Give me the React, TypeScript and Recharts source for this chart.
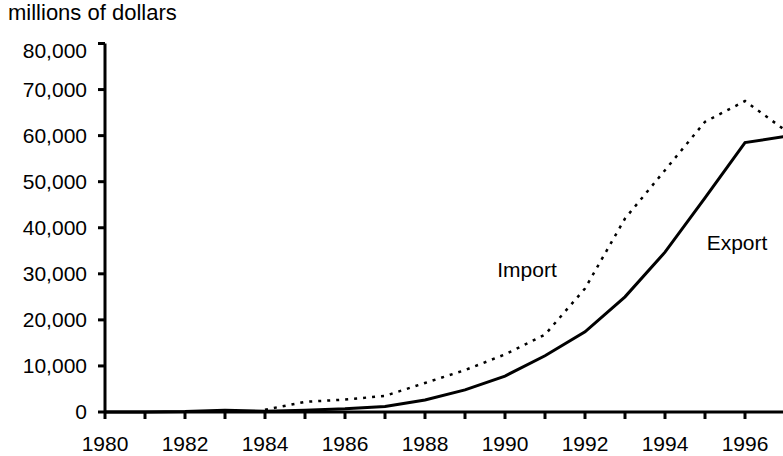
import React from "react";
import {
  Line,
  LineChart,
  ReferenceDot,
  XAxis,
  YAxis,
} from "recharts";

// Valores (millones de dólares)
const YEARS = [
  1980, 1981, 1982, 1983, 1984, 1985, 1986, 1987, 1988,
  1989, 1990, 1991, 1992, 1993, 1994, 1995, 1996, 1997,
];
const EXPORTS = [
  0, 0, 100, 400, 150, 400, 700, 1200, 2600,
  4800, 7800, 12200, 17400, 25000, 34700, 46500, 58500, 59800,
];
const IMPORTS: (number | null)[] = [
  null, null, null, null, 500, 2200, 2700, 3500, 6300,
  9100, 12500, 16800, 26800, 42000, 52500, 63000, 67500, 61200,
];
const Y_TICKS = [0, 10000, 20000, 30000, 40000, 50000, 60000, 70000, 80000];

const FONT = '"Liberation Sans", Arial, Helvetica, sans-serif';
const INK = "#000";
const TEXT_SIZE = 21;

const data = YEARS.map((year, i) => ({
  year,
  exports: EXPORTS[i],
  imports: IMPORTS[i],
}));

function formatThousands(v: number): string {
  return v.toLocaleString("en-US");
}

// En el original la etiqueta superior queda un poco por debajo de su marca
function YTick(props: any) {
  const { x, y, payload } = props;
  const shift = payload.value === 80000 ? 7 : 0;
  return (
    <text
      x={x}
      y={y + shift}
      dy="0.355em"
      textAnchor="end"
      fill={INK}
      fontSize={TEXT_SIZE}
      fontFamily={FONT}
    >
      {formatThousands(payload.value)}
    </text>
  );
}

export default function App() {
  return (
    <div
      style={{
        position: "absolute",
        left: 0,
        top: 0,
        width: 783,
        height: 456,
        overflow: "hidden",
        background: "#fff",
        fontFamily: FONT,
      }}
    >
      <div
        style={{
          position: "absolute",
          left: 8,
          top: 1,
          fontSize: 22,
          lineHeight: "24px",
          color: INK,
          whiteSpace: "nowrap",
        }}
      >
        millions of dollars
      </div>
      <LineChart
        width={785}
        height={456}
        data={data}
        margin={{ top: 43.5, right: 0, left: 0, bottom: 0 }}
      >
        <XAxis
          dataKey="year"
          type="number"
          domain={[1980, 1997]}
          ticks={YEARS}
          interval={0}
          tickFormatter={(y: number) => (y % 2 === 0 ? String(y) : "")}
          stroke={INK}
          strokeWidth={3}
          tickSize={7}
          tickMargin={17}
          tick={{ fill: INK, fontSize: TEXT_SIZE, fontFamily: FONT }}
          height={44}
        />
        <YAxis
          type="number"
          domain={[0, 80000]}
          ticks={Y_TICKS}
          interval={0}
          stroke={INK}
          strokeWidth={3}
          tickSize={7}
          tickMargin={11}
          tick={<YTick />}
          width={105}
        />
        <Line
          type="linear"
          dataKey="imports"
          stroke={INK}
          strokeWidth={2.5}
          strokeDasharray="3 6"
          dot={false}
          connectNulls={false}
          isAnimationActive={false}
        />
        <Line
          type="linear"
          dataKey="exports"
          stroke={INK}
          strokeWidth={3}
          dot={false}
          isAnimationActive={false}
        />
        <ReferenceDot
          x={1990.55}
          y={31000}
          r={0}
          stroke="none"
          label={{ value: "Import", fill: INK, fontSize: TEXT_SIZE, fontFamily: FONT, position: "center" }}
        />
        <ReferenceDot
          x={1995.8}
          y={36800}
          r={0}
          stroke="none"
          label={{ value: "Export", fill: INK, fontSize: TEXT_SIZE, fontFamily: FONT, position: "center" }}
        />
      </LineChart>
    </div>
  );
}
